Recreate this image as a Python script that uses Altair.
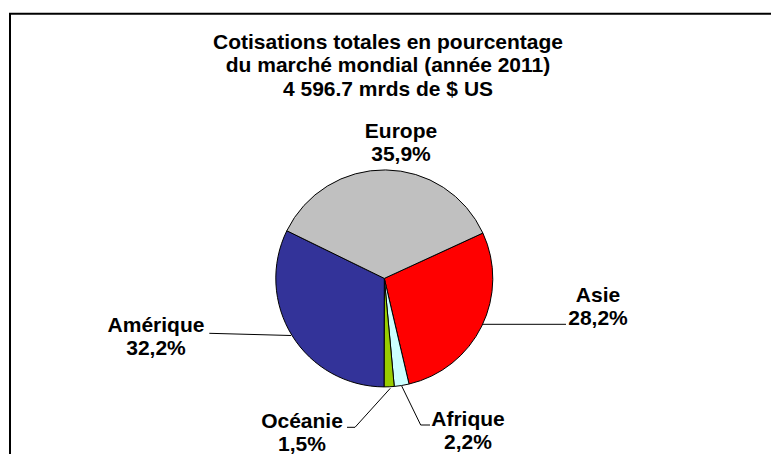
import math
import altair as alt
import pandas as pd

# ---- data -------------------------------------------------------------
regions = ["Asie", "Afrique", "Océanie", "Amérique", "Europe"]
shares = [28.2, 2.2, 1.5, 32.2, 35.9]
colors = ["#FF0000", "#CCFFFF", "#99CC00", "#333399", "#C0C0C0"]
title_lines = [
    "Cotisations totales en pourcentage",
    "du marché mondial (année 2011)",
    "4 596.7 mrds de $ US",
]

# ---- layout (plot-space pixels) ----------------------------------------
W, H = 763, 446
CX, CY, R = 376.3, 270.4, 108.5
START = math.radians(65.3)
FONT = "Liberation Sans"
FS = 21
LH = 23.4

label_pos = {  # centre of first line
    "Europe": (393, 123.7),
    "Asie": (590, 288),
    "Amérique": (148, 318),
    "Océanie": (294, 413.7),
    "Afrique": (460, 412),
}
leaders = {
    "Asie": [(474.6, 316.3), (558, 316.3)],
    "Amérique": [(201.3, 325.3), (283, 327.5)],
    "Océanie": [(339, 419.3), (347, 419.3), (382.3, 380.3)],
    "Afrique": [(393.7, 378), (412.7, 417), (422, 417)],
}

pie_df = pd.DataFrame({"region": regions, "share": shares, "idx": range(len(regions))})

text_rows = []
for reg, sh in zip(regions, shares):
    x, y = label_pos[reg]
    text_rows.append({"t": reg, "x": x, "y": y})
    text_rows.append({"t": f"{sh:.1f}".replace(".", ",") + "%", "x": x, "y": y + LH})
for i, line in enumerate(title_lines):
    text_rows.append({"t": line, "x": 380, "y": 34.7 + i * LH})
text_df = pd.DataFrame(text_rows)

lead_rows = []
for name, pts in leaders.items():
    for k, (x, y) in enumerate(pts):
        lead_rows.append({"leader": name, "pt": k, "x": x, "y": y})
lead_df = pd.DataFrame(lead_rows)

one = pd.DataFrame({"a": [0]})

pie = alt.Chart(pie_df).mark_arc(radius=R, stroke="black", strokeWidth=1).encode(
    theta=alt.Theta("share:Q", stack=True,
                    scale=alt.Scale(domain=[0, 100], range=[START, START + 2 * math.pi])),
    color=alt.Color("region:N", scale=alt.Scale(domain=regions, range=colors), legend=None),
    order=alt.Order("idx:Q"),
    x=alt.value(CX),
    y=alt.value(CY),
)

lines = alt.Chart(lead_df).mark_line(color="black", strokeWidth=1).encode(
    x=alt.X("x:Q", scale=None),
    y=alt.Y("y:Q", scale=None),
    detail="leader:N",
    order="pt:Q",
)

texts = alt.Chart(text_df).mark_text(
    font=FONT, fontSize=FS, fontWeight="bold", color="black",
    align="center", baseline="middle",
).encode(
    x=alt.X("x:Q", scale=None),
    y=alt.Y("y:Q", scale=None),
    text="t:N",
)

frame_left = alt.Chart(one).mark_rule(color="black", strokeWidth=2).encode(
    x=alt.value(2), y=alt.value(5.7), y2=alt.value(H))
frame_top = alt.Chart(one).mark_rule(color="black", strokeWidth=2).encode(
    x=alt.value(1), x2=alt.value(W), y=alt.value(5.7))

chart = alt.layer(frame_left, frame_top, pie, lines, texts).properties(
    width=W, height=H, autosize="none", padding=0,
).configure_view(stroke=None)

chart.save("out.html", embed_options={"renderer": "svg", "actions": False})
